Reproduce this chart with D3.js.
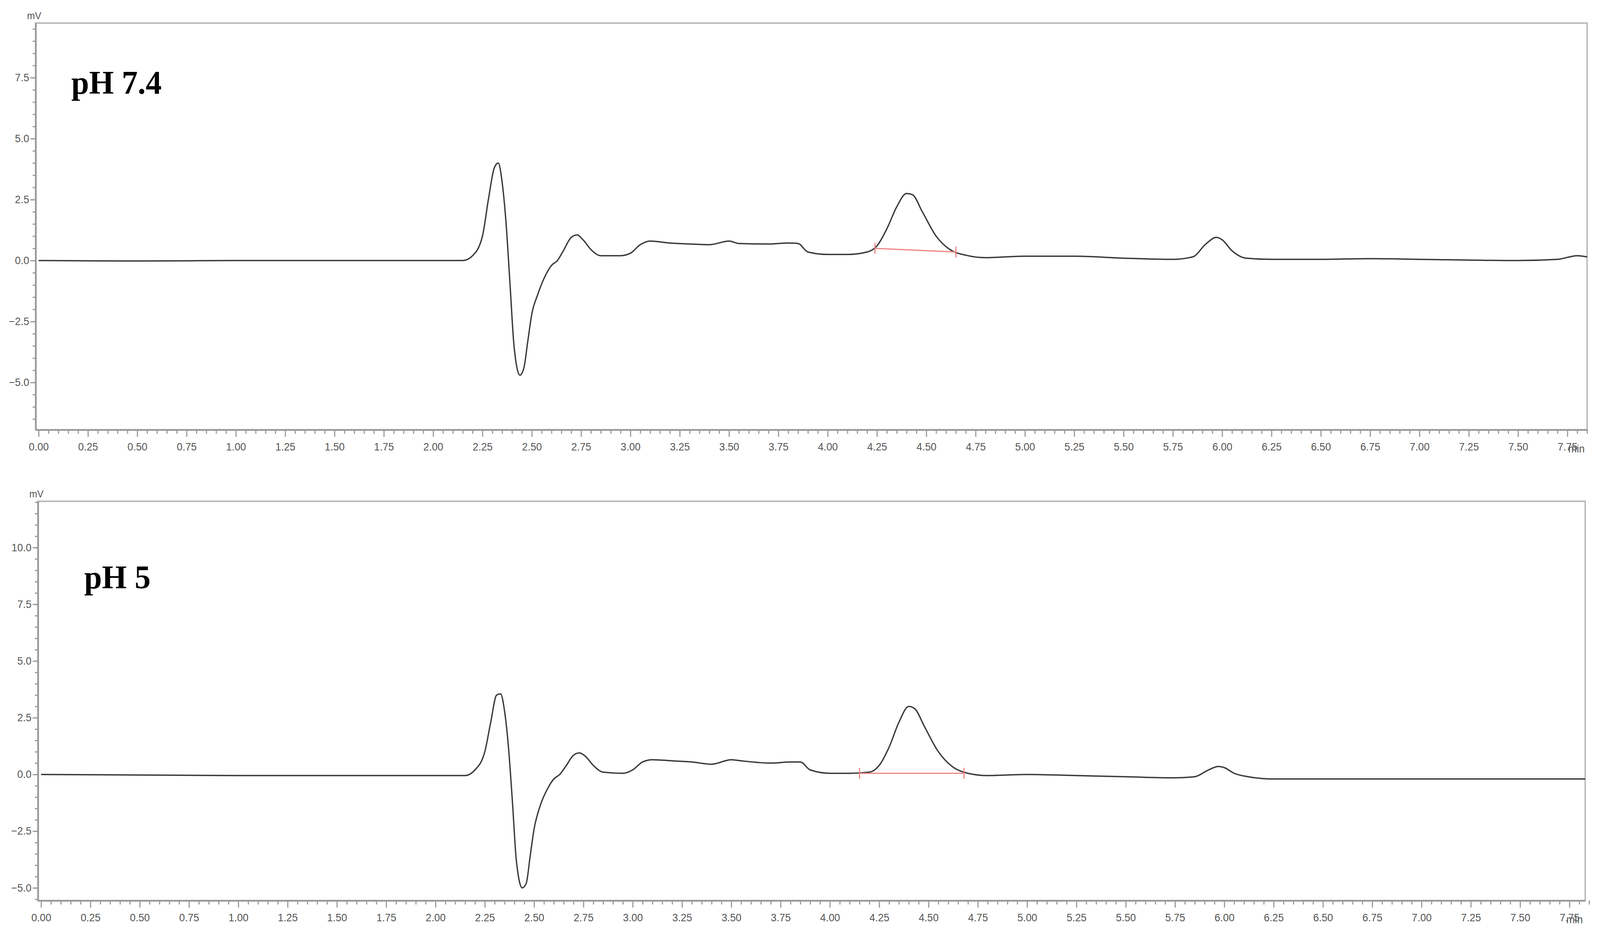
<!DOCTYPE html><html><head><meta charset="utf-8">
<script src="https://cdn.jsdelivr.net/npm/d3@7"></script>
<style>html,body{margin:0;padding:0;overflow:hidden;background:#fff}svg{display:block;width:100vw;height:100vh}</style></head><body>
<svg id="c" viewBox="0 0 4217 2411" preserveAspectRatio="none"></svg>
<script>
const timeA=[0,0.5,1.0,1.5,2.0,2.15,2.2,2.25,2.28,2.31,2.33,2.35,2.37,2.39,2.41,2.44,2.46,2.48,2.5,2.53,2.57,2.6,2.63,2.66,2.7,2.73,2.76,2.8,2.85,2.95,3.0,3.05,3.1,3.2,3.3,3.4,3.5,3.55,3.7,3.8,3.85,3.9,4.0,4.1,4.2,4.25,4.3,4.35,4.4,4.43,4.48,4.55,4.62,4.7,4.8,5.0,5.25,5.5,5.75,5.85,5.92,5.97,6.0,6.05,6.12,6.25,6.5,6.75,7.0,7.5,7.7,7.8,7.85];
const mvA=[0,-0.02,0,0,0,0,0.2,1.0,2.5,3.8,4.0,3.2,1.5,-1.0,-3.5,-4.7,-4.4,-3.3,-2.2,-1.4,-0.6,-0.2,0,0.4,0.95,1.05,0.85,0.45,0.2,0.2,0.3,0.65,0.8,0.72,0.68,0.65,0.8,0.7,0.68,0.72,0.7,0.35,0.25,0.25,0.35,0.6,1.3,2.2,2.75,2.7,2.0,1.0,0.45,0.22,0.12,0.18,0.18,0.1,0.05,0.15,0.7,0.95,0.85,0.4,0.1,0.05,0.05,0.08,0.05,0,0.05,0.2,0.15];
const timeB=[0,1.0,2.0,2.15,2.2,2.25,2.28,2.31,2.33,2.35,2.37,2.39,2.41,2.44,2.46,2.48,2.5,2.53,2.57,2.6,2.63,2.66,2.7,2.73,2.76,2.8,2.85,2.95,3.0,3.05,3.1,3.2,3.3,3.4,3.5,3.55,3.7,3.8,3.85,3.9,4.0,4.1,4.2,4.25,4.3,4.35,4.4,4.43,4.48,4.55,4.62,4.7,4.8,5.0,5.25,5.5,5.75,5.85,5.92,5.97,6.0,6.05,6.12,6.25,6.5,7.0,7.5,7.83];
const mvB=[0,-0.05,-0.05,-0.05,0.2,1.0,2.3,3.5,3.55,2.8,1.2,-1.2,-3.8,-5.0,-4.8,-3.6,-2.4,-1.4,-0.6,-0.2,0,0.35,0.85,0.95,0.8,0.4,0.1,0.05,0.2,0.55,0.65,0.6,0.55,0.45,0.65,0.6,0.5,0.55,0.55,0.2,0.05,0.05,0.1,0.4,1.2,2.3,3.0,2.9,2.1,1.0,0.35,0.05,-0.05,0,-0.05,-0.1,-0.15,-0.1,0.2,0.35,0.3,0.05,-0.1,-0.2,-0.2,-0.2,-0.2,-0.2];
const baseA=[[4.24,0.5],[4.65,0.35]];
const baseB=[[4.15,0.05],[4.68,0.05]];
const xTicks=d3.range(0,7.76,0.25);
const yTicksA=[7.5,5.0,2.5,0.0,-2.5,-5.0];
const yTicksB=[10.0,7.5,5.0,2.5,0.0,-2.5,-5.0];
const titles=["pH 7.4","pH 5"];

const svg=d3.select("#c");
const panels=[
 {t:timeA,v:mvA,base:baseA,yt:yTicksA,L:94,R:4183,T:59,B:1100,xd:[-0.015,7.85],yd:[-6.94,9.74],title:titles[0],tx:188,ty:240},
 {t:timeB,v:mvB,base:baseB,yt:yTicksB,L:100,R:4178,T:1283,B:2305,xd:[-0.016,7.83],yd:[-5.56,12.04],title:titles[1],tx:222,ty:1506}
];
const ax="#9a9a9a", tc="#555";
panels.forEach(p=>{
 const x=d3.scaleLinear().domain(p.xd).range([p.L,p.R]);
 const y=d3.scaleLinear().domain(p.yd).range([p.B,p.T]);
 const g=svg.append("g");
 g.append("rect").attr("x",p.L).attr("y",p.T).attr("width",p.R-p.L).attr("height",p.B-p.T).attr("fill","none").attr("stroke","#bbb").attr("stroke-width",4);
 const xa=g.append("g").attr("transform",`translate(0,${p.B})`).call(d3.axisBottom(x).tickValues(xTicks).tickFormat(d3.format(".2f")).tickSize(18).tickSizeOuter(0));
 const xm=g.append("g").attr("transform",`translate(0,${p.B})`).call(d3.axisBottom(x).tickValues(d3.range(0,7.86,0.05).filter(v=>Math.abs(v*4-Math.round(v*4))>0.01)).tickFormat("").tickSize(10).tickSizeOuter(0));
 const ya=g.append("g").attr("transform",`translate(${p.L},0)`).call(d3.axisLeft(y).tickValues(p.yt).tickFormat(d3.format(".1f")).tickSize(14).tickSizeOuter(0));
 const ym=g.append("g").attr("transform",`translate(${p.L},0)`).call(d3.axisLeft(y).tickValues(d3.range(-7,12.1,0.5).filter(v=>v>p.yd[0]&&v<p.yd[1])).tickFormat("").tickSize(8).tickSizeOuter(0));
 [xa,xm,ya,ym].forEach(a=>{a.select(".domain").attr("stroke",ax).attr("stroke-width",4);a.selectAll("line").attr("stroke",ax).attr("stroke-width",3);
   a.selectAll("text").attr("fill",tc).style("font-family","'Liberation Sans Narrow','Arial Narrow',sans-serif").style("font-size","27px");});
 xa.selectAll("text").attr("dy","1.2em");
 g.append("text").attr("x",p.R-28).attr("y",p.B+58).attr("text-anchor","middle").attr("fill",tc).style("font-family","'Liberation Sans Narrow',sans-serif").style("font-size","27px").text("min");
 g.append("text").attr("x",p.L-4).attr("y",p.T-10).attr("text-anchor","middle").attr("fill",tc).style("font-family","'Liberation Sans Narrow',sans-serif").style("font-size","25px").text("mV");
 const data=p.t.map((t,i)=>[t,p.v[i]]);
 g.append("path").datum(data).attr("fill","none").attr("stroke","#3a3a3a").attr("stroke-width",3.5)
  .attr("d",d3.line().x(d=>x(d[0])).y(d=>y(d[1])).curve(d3.curveMonotoneX));
 g.append("line").attr("x1",x(p.base[0][0])).attr("y1",y(p.base[0][1])).attr("x2",x(p.base[1][0])).attr("y2",y(p.base[1][1])).attr("stroke","#f08080").attr("stroke-width",3);
 p.base.forEach(b=>{g.append("line").attr("x1",x(b[0])).attr("x2",x(b[0])).attr("y1",y(b[1])-14).attr("y2",y(b[1])+14).attr("stroke","#f08080").attr("stroke-width",3);});
 g.append("text").attr("x",p.tx).attr("y",p.ty).attr("font-weight","bold").style("font-family","'Liberation Serif',serif").style("font-size","84px").text(p.title);
});
</script></body></html>
